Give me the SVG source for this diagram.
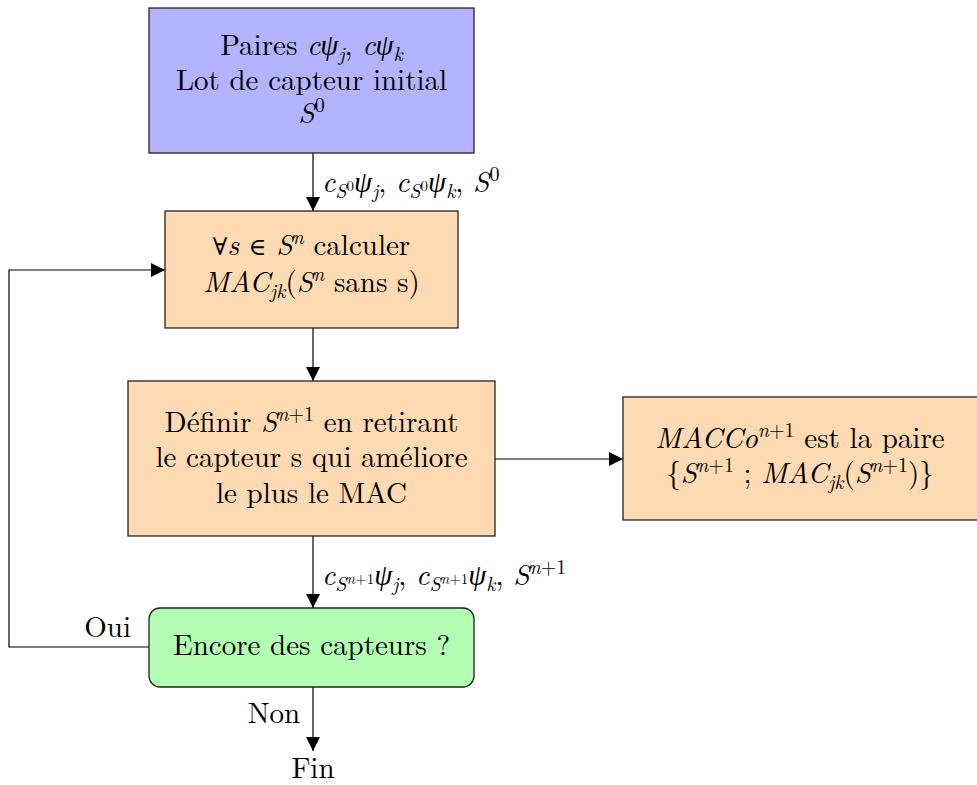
<svg xmlns="http://www.w3.org/2000/svg" width="977" height="785" viewBox="0 0 977 785" font-family="Latin Modern Roman, Liberation Serif, serif" font-size="29">
<style>
text{fill:#000}
.c{text-anchor:middle}
.i{font-style:italic}
.s{font-size:20px}
.ss{font-size:15px}
.box{stroke:#222;stroke-width:1.3}
.edge{fill:none;stroke:#000;stroke-width:1.2}
</style>
<defs>
<marker id="ah" markerUnits="userSpaceOnUse" markerWidth="16" markerHeight="16" viewBox="0 0 16 16" refX="15" refY="8" orient="auto">
<path d="M1,1 L15,8 L1,15 Z" fill="#000"/>
</marker>
</defs>
<rect width="977" height="785" fill="#fff"/>
<g id="connectors">
<line class="edge" x1="313" y1="153" x2="313" y2="211" marker-end="url(#ah)"/>
<line class="edge" x1="313" y1="328" x2="313" y2="381" marker-end="url(#ah)"/>
<line class="edge" x1="495" y1="459" x2="623" y2="459" marker-end="url(#ah)"/>
<line class="edge" x1="313" y1="536" x2="313" y2="608" marker-end="url(#ah)"/>
<line class="edge" x1="313" y1="687" x2="313" y2="751" marker-end="url(#ah)"/>
<polyline class="edge" points="149,647 9,647 9,270 165,270" marker-end="url(#ah)"/>
<text x="322" y="192"><tspan class="i">c</tspan><tspan class="s i" dy="6">S</tspan><tspan class="ss" dy="-7">0</tspan><tspan class="i" font-family="Liberation Serif" dy="1">ψ</tspan><tspan class="s i" dy="6">j</tspan><tspan dy="-6">, </tspan><tspan class="i">c</tspan><tspan class="s i" dy="6">S</tspan><tspan class="ss" dy="-7">0</tspan><tspan class="i" font-family="Liberation Serif" dy="1">ψ</tspan><tspan class="s i" dy="6">k</tspan><tspan dy="-6">, </tspan><tspan class="i">S</tspan><tspan class="s" dy="-11">0</tspan></text>
<text x="322" y="585"><tspan class="i">c</tspan><tspan class="s i" dy="6">S</tspan><tspan class="ss i" dy="-7">n</tspan><tspan class="ss">+1</tspan><tspan class="i" font-family="Liberation Serif" dy="1">ψ</tspan><tspan class="s i" dy="6">j</tspan><tspan dy="-6">, </tspan><tspan class="i">c</tspan><tspan class="s i" dy="6">S</tspan><tspan class="ss i" dy="-7">n</tspan><tspan class="ss">+1</tspan><tspan class="i" font-family="Liberation Serif" dy="1">ψ</tspan><tspan class="s i" dy="6">k</tspan><tspan dy="-6">, </tspan><tspan class="i">S</tspan><tspan class="s i" dy="-11">n</tspan><tspan class="s">+1</tspan></text>
<text x="131" y="637" text-anchor="end">Oui</text>
<text x="300" y="723" text-anchor="end">Non</text>
<text x="313" y="778" class="c">Fin</text>
</g>
<g id="n1">
<rect class="box" x="149" y="8" width="325" height="145" fill="#b3b3ff"/>
<text class="c" x="311.5" y="55">Paires <tspan class="i">c</tspan><tspan class="i" font-family="Liberation Serif">ψ</tspan><tspan class="s i" dy="6">j</tspan><tspan dy="-6">, </tspan><tspan class="i">c</tspan><tspan class="i" font-family="Liberation Serif">ψ</tspan><tspan class="s i" dy="6">k</tspan></text>
<text class="c" x="311.5" y="90">Lot de capteur initial</text>
<text class="c" x="311.5" y="123"><tspan class="i">S</tspan><tspan class="s" dy="-11">0</tspan></text>
</g>
<g id="n2">
<rect class="box" x="165" y="211" width="293" height="117" fill="#ffdab3"/>
<text class="c" x="311.5" y="255"><tspan font-family="DejaVu Serif" font-size="24">∀</tspan><tspan class="i">s</tspan> <tspan font-family="DejaVu Serif" font-size="24">∈</tspan> <tspan class="i">S</tspan><tspan class="s i" dy="-11">n</tspan><tspan dy="11"> calculer</tspan></text>
<text class="c" x="311.5" y="292"><tspan class="i">MAC</tspan><tspan class="s i" dy="6">jk</tspan><tspan dy="-6">(</tspan><tspan class="i">S</tspan><tspan class="s i" dy="-11">n</tspan><tspan dy="11"> sans s)</tspan></text>
</g>
<g id="n3">
<rect class="box" x="128" y="381" width="367" height="155" fill="#ffdab3"/>
<text class="c" x="311.5" y="432">Définir <tspan class="i">S</tspan><tspan class="s i" dy="-11">n</tspan><tspan class="s">+1</tspan><tspan dy="11"> en retirant</tspan></text>
<text class="c" x="311.5" y="467">le capteur s qui améliore</text>
<text class="c" x="311.5" y="503">le plus le MAC</text>
</g>
<g id="n4">
<rect class="box" x="623" y="397" width="360" height="123" fill="#ffdab3"/>
<text class="c" x="800" y="448"><tspan class="i">MACCo</tspan><tspan class="s i" dy="-11">n</tspan><tspan class="s">+1</tspan><tspan dy="11"> est la paire</tspan></text>
<text class="c" x="800" y="483">{<tspan class="i">S</tspan><tspan class="s i" dy="-11">n</tspan><tspan class="s">+1</tspan><tspan dy="11"> ; </tspan><tspan class="i">MAC</tspan><tspan class="s i" dy="6">jk</tspan><tspan dy="-6">(</tspan><tspan class="i">S</tspan><tspan class="s i" dy="-11">n</tspan><tspan class="s">+1</tspan><tspan dy="11">)}</tspan></text>
</g>
<g id="n5">
<rect class="box" x="149" y="608" width="325" height="79" rx="11" fill="#b3ffb3"/>
<text class="c" x="311.5" y="655">Encore des capteurs ?</text>
</g>
</svg>
